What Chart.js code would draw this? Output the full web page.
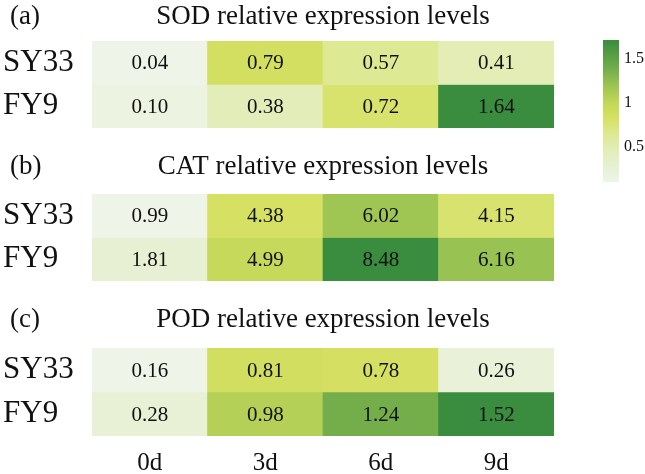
<!DOCTYPE html>
<html>
<head>
<meta charset="utf-8">
<script src="https://cdn.jsdelivr.net/npm/chart.js@4.4.0/dist/chart.umd.min.js"></script>
<style>
  body { margin: 0; width: 645px; height: 474px; position: relative; overflow: hidden; background: #fff; }
  canvas { position: absolute; }
</style>
</head>
<body>
<canvas id="sodChart" width="645" height="140" style="left:0;top:0"></canvas>
<canvas id="catChart" width="645" height="150" style="left:0;top:145px"></canvas>
<canvas id="podChart" width="645" height="183" style="left:0;top:295px"></canvas>
<canvas id="barChart" width="55" height="200" style="left:590px;top:0"></canvas>
<script>
// Data
const days = ['0d', '3d', '6d', '9d'];
const rows = ['SY33', 'FY9'];

const sodSY33 = [0.04, 0.79, 0.57, 0.41];
const sodFY9 = [0.10, 0.38, 0.72, 1.64];
const catSY33 = [0.99, 4.38, 6.02, 4.15];
const catFY9 = [1.81, 4.99, 8.48, 6.16];
const podSY33 = [0.16, 0.81, 0.78, 0.26];
const podFY9 = [0.28, 0.98, 1.24, 1.52];

const colorbarTicks = [0.5, 1, 1.5];
const colorbarRange = [0.1, 1.72];

// colour map: pale -> yellow-green -> dark green
const cmapStops = [
    [0, '#eef5e8'], [0.12, '#e6f0d0'], [0.25, '#e2ecb0'], [0.35, '#dde88c'],
    [0.45, '#d6e163'], [0.55, '#c4d858'], [0.68, '#9cc453'], [0.8, '#72ad4a'], [1, '#3a8c3e']
];
const serif = '"Liberation Serif", "DejaVu Serif", serif';
const textColor = '#111';

function hexToRgb(h) {
    return [1, 3, 5].map((i) => parseInt(h.slice(i, i + 2), 16));
}

function colorAt(t) {
    t = Math.max(0, Math.min(1, t));
    for (let i = 1; i < cmapStops.length; i++) {
        if (t <= cmapStops[i][0]) {
            const [t0, c0] = cmapStops[i - 1];
            const [t1, c1] = cmapStops[i];
            const f = (t - t0) / (t1 - t0);
            const a = hexToRgb(c0), b = hexToRgb(c1);
            const c = a.map((v, k) => Math.round(v + (b[k] - v) * f));
            return `rgb(${c[0]},${c[1]},${c[2]})`;
        }
    }
    return cmapStops[cmapStops.length - 1][1];
}

// Writes the value in the middle of every cell
const cellLabels = {
    id: 'cellLabels',
    afterDatasetsDraw(chart) {
        const ctx = chart.ctx;
        ctx.save();
        ctx.font = `21px ${serif}`;
        ctx.fillStyle = textColor;
        ctx.textAlign = 'center';
        ctx.textBaseline = 'middle';
        chart.data.datasets.forEach((ds, di) => {
            chart.getDatasetMeta(di).data.forEach((bar, i) => {
                const { x, y, base } = bar.getProps(['x', 'y', 'base'], true);
                ctx.fillText(ds.values[i].toFixed(2), x, (y + base) / 2 + 1);
            });
        });
        ctx.restore();
    }
};

// Panel letter and heading above each heatmap
const panelTitle = {
    id: 'panelTitle',
    afterDraw(chart, args, opts) {
        const ctx = chart.ctx;
        const area = chart.chartArea;
        const y = area.top - opts.offset;
        ctx.save();
        ctx.font = `27px ${serif}`;
        ctx.fillStyle = textColor;
        ctx.textBaseline = 'middle';
        ctx.textAlign = 'left';
        ctx.fillText(opts.letter, 10, y);
        ctx.textAlign = 'center';
        ctx.fillText(opts.text, (area.left + area.right) / 2, y);
        ctx.restore();
    }
};

function makePanel(canvasId, letter, title, topRow, bottomRow, padTop, padBottom, offset, showDays) {
    const all = topRow.concat(bottomRow);
    const min = Math.min(...all), max = Math.max(...all);
    const toColor = (v) => colorAt((v - min) / (max - min));
    const rowData = [topRow, bottomRow];

    new Chart(document.getElementById(canvasId), {
        type: 'bar',
        data: {
            labels: days,
            datasets: rowData.map((vals, r) => ({
                label: rows[r],
                data: vals.map(() => [rows.length - 1 - r, rows.length - r]),
                values: vals,
                backgroundColor: vals.map(toColor),
                borderWidth: 0,
                barPercentage: 1,
                categoryPercentage: 1,
                grouped: false,
            })),
        },
        options: {
            responsive: false,
            animation: false,
            layout: { padding: { top: padTop, bottom: padBottom, left: 3, right: 91 } },
            plugins: {
                legend: { display: false },
                tooltip: { enabled: false },
                panelTitle: { letter: letter, text: title, offset: offset },
            },
            scales: {
                x: {
                    display: showDays,
                    grid: { display: false, drawTicks: false },
                    border: { display: false },
                    afterFit: (scale) => {
                        if (showDays) scale.height = 42;
                        scale.paddingLeft = 0;
                        scale.paddingRight = 0;
                    },
                    ticks: { font: { family: serif, size: 25 }, color: textColor, padding: 12 },
                },
                y: {
                    min: 0,
                    max: rows.length,
                    grid: { display: false, drawTicks: false },
                    border: { display: false },
                    afterBuildTicks: (scale) => {
                        scale.ticks = rows.map((_, r) => ({ value: rows.length - r - 0.5 }));
                    },
                    afterFit: (scale) => {
                        scale.width = 89;
                        scale.paddingTop = 0;
                        scale.paddingBottom = 0;
                    },
                    ticks: {
                        crossAlign: 'far',
                        font: { family: serif, size: 31 },
                        color: textColor,
                        callback: (value) => rows[rows.length - 1 - Math.floor(value)],
                    },
                },
            },
        },
        plugins: [cellLabels, panelTitle],
    });
}

makePanel('sodChart', '(a)', 'SOD relative expression levels', sodSY33, sodFY9, 41, 12, 24, false);
makePanel('catChart', '(b)', 'CAT relative expression levels', catSY33, catFY9, 49, 14, 27, false);
makePanel('podChart', '(c)', 'POD relative expression levels', podSY33, podFY9, 53, 0, 28, true);

// Colour bar for the SOD panel
new Chart(document.getElementById('barChart'), {
    type: 'bar',
    data: {
        labels: [''],
        datasets: [{
            data: [colorbarRange],
            borderWidth: 0,
            barPercentage: 1,
            categoryPercentage: 1,
            backgroundColor: (context) => {
                const area = context.chart.chartArea;
                if (!area) return cmapStops[0][1];
                const g = context.chart.ctx.createLinearGradient(0, area.bottom, 0, area.top);
                cmapStops.forEach(([t, c]) => g.addColorStop(t, c));
                return g;
            },
        }],
    },
    options: {
        responsive: false,
        animation: false,
        layout: { padding: { top: 40, bottom: 18, left: 13, right: 0 } },
        plugins: { legend: { display: false }, tooltip: { enabled: false } },
        scales: {
            x: { display: false },
            y: {
                position: 'right',
                min: colorbarRange[0],
                max: colorbarRange[1],
                grid: { display: false, drawTicks: false },
                border: { display: false },
                afterBuildTicks: (scale) => {
                    scale.ticks = colorbarTicks.map((v) => ({ value: v }));
                },
                afterFit: (scale) => {
                    scale.width = 26;
                    scale.paddingTop = 0;
                    scale.paddingBottom = 0;
                },
                ticks: {
                    font: { family: serif, size: 16 },
                    color: textColor,
                    padding: 5,
                    callback: (value) => String(value),
                },
            },
        },
    },
});
</script>
</body>
</html>
